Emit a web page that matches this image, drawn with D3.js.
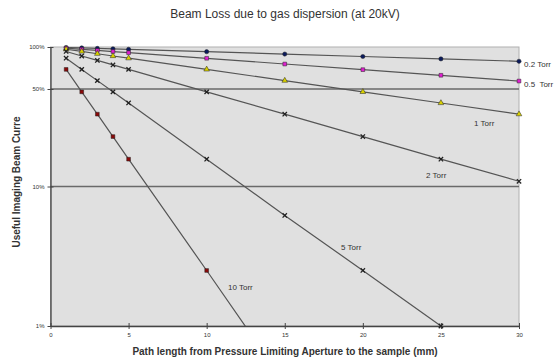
<!DOCTYPE html>
<html>
<head>
<meta charset="utf-8">
<script src="https://cdn.jsdelivr.net/npm/d3@7"></script>
<style>
  body { margin: 0; background: #fff; }
  text { font-family: "Liberation Sans", Arial, sans-serif; fill: #333; }
</style>
</head>
<body>
<div id="chart"></div>
<script>
// data (transmission % at each path length)
const distances = [1, 2, 3, 4, 5, 10, 15, 20, 25, 30];
const torr02 = [99.2, 98.5, 97.7, 97.0, 96.2, 92.5, 89.0, 85.5, 82.2, 79.0];
const torr05 = [98.1, 96.3, 94.5, 92.8, 91.1, 83.0, 75.5, 68.8, 62.7, 57.0];
const torr1 = [96.4, 92.9, 89.5, 86.2, 83.1, 69.1, 57.4, 47.7, 39.7, 33.0];
const torr2 = [92.9, 86.2, 80.1, 74.4, 69.1, 47.7, 33.0, 22.8, 15.7, 10.9];
const torr5 = [83.1, 69.1, 57.4, 47.7, 39.7, 15.7, 6.2, 2.5, 1.0];
const torr10 = [69.1, 47.7, 33.0, 22.8, 15.7, 2.5, 0.39];
const seriesNames = ["0.2 Torr", "0.5  Torr", "1 Torr", "2 Torr", "5 Torr", "10 Torr"];
const yTicks = [1, 10, 50, 100];
const yTickLabels = ["1%", "10%", "50%", "100%"];
const xTicks = [0, 5, 10, 15, 20, 25, 30];
const gridValues = [10, 50];

const config = {
  width: 557,
  height: 361,
  margin: {top: 47, left: 50.5, right: 38, bottom: 35},
  lineColor: "#555",
  plotBg: "#e0e0e0"
};

const series = [
  {name: seriesNames[0], values: torr02, marker: "circle", fill: "#0a1a5c", label: [524, 67]},
  {name: seriesNames[1], values: torr05, marker: "square", fill: "#e020d0", label: [524, 87]},
  {name: seriesNames[2], values: torr1, marker: "triangle", fill: "#d8d000", label: [474, 126]},
  {name: seriesNames[3], values: torr2, marker: "x", fill: "#333", label: [426, 178]},
  {name: seriesNames[4], values: torr5, marker: "x", fill: "#333", label: [341, 250]},
  {name: seriesNames[5], values: torr10, marker: "square", fill: "#8a0a0a", label: [228, 290]}
];

const W = config.width, H = config.height, m = config.margin;
const x = d3.scaleLinear([0, 30], [m.left, W - m.right]);
const y = d3.scaleLog([1, 100], [H - m.bottom, m.top]);

const svg = d3.select("#chart").append("svg")
  .attr("width", W)
  .attr("height", H)
  .attr("viewBox", [0, 0, W, H]);

svg.append("defs").append("clipPath").attr("id", "plot")
  .append("rect")
  .attr("x", x(0)).attr("y", y(100))
  .attr("width", x(30) - x(0)).attr("height", y(1) - y(100));

// plot background
svg.append("rect")
  .attr("x", x(0)).attr("y", y(100))
  .attr("width", x(30) - x(0)).attr("height", y(1) - y(100))
  .attr("fill", config.plotBg)
  .attr("stroke", "#b0b0b0")
  .attr("stroke-width", 1);

// horizontal gridlines
svg.append("g").selectAll("line")
  .data(gridValues)
  .join("line")
  .attr("x1", x(0)).attr("x2", x(30))
  .attr("y1", d => y(d)).attr("y2", d => y(d))
  .attr("stroke", "#6a6a6a")
  .attr("stroke-width", 1.5);

// axes
const xAxis = d3.axisBottom(x).tickValues(xTicks).tickSize(3).tickSizeOuter(0);
const gx = svg.append("g")
  .attr("transform", `translate(0,${y(1)})`)
  .call(xAxis);
gx.select(".domain").attr("stroke", "#444").attr("stroke-width", 1.3);
gx.selectAll(".tick line").attr("y1", -3).attr("stroke", "#444");
gx.selectAll(".tick text").attr("font-size", 6).attr("dy", "0.9em").attr("fill", "#444");

const yAxis = d3.axisLeft(y).tickValues(yTicks)
  .tickFormat((d, i) => yTickLabels[i]).tickSize(3).tickSizeOuter(0);
const gy = svg.append("g")
  .attr("transform", `translate(${x(0)},0)`)
  .call(yAxis);
gy.select(".domain").attr("stroke", "#444").attr("stroke-width", 1.3);
gy.selectAll(".tick line").attr("x1", 3).attr("stroke", "#444");
gy.selectAll(".tick text").attr("font-size", 6).attr("fill", "#444");

// lines
const line = d3.line()
  .x((d, i) => x(distances[i]))
  .y(d => y(d));

const plot = svg.append("g").attr("clip-path", "url(#plot)");

plot.selectAll("path.series")
  .data(series)
  .join("path")
  .attr("class", "series")
  .attr("fill", "none")
  .attr("stroke", config.lineColor)
  .attr("stroke-width", 1.2)
  .attr("d", s => line(s.values));

// markers
const symbolFor = {
  circle: d3.symbol(d3.symbolCircle, 14),
  square: d3.symbol(d3.symbolSquare, 14),
  triangle: d3.symbol(d3.symbolTriangle, 14),
  x: d3.symbol(d3.symbolTimes, 14)
};

series.forEach(s => {
  const pts = s.values
    .map((v, i) => ({xv: distances[i], yv: v}))
    .filter(p => p.yv >= 1);
  svg.append("g").selectAll("path")
    .data(pts)
    .join("path")
    .attr("transform", p => `translate(${x(p.xv)},${y(p.yv)})`)
    .attr("d", symbolFor[s.marker]())
    .attr("fill", s.marker === "x" ? "none" : s.fill)
    .attr("stroke", s.marker === "x" ? "#222" : "#222")
    .attr("stroke-width", s.marker === "x" ? 1.3 : 0.5);
});

// series labels
svg.append("g").selectAll("text")
  .data(series)
  .join("text")
  .attr("x", s => s.label[0])
  .attr("y", s => s.label[1])
  .attr("font-size", 8)
  .attr("fill", "#333")
  .style("white-space", "pre")
  .text(s => s.name);

// titles
svg.append("text")
  .attr("x", 285).attr("y", 18)
  .attr("text-anchor", "middle")
  .attr("font-size", 12)
  .text("Beam Loss due to gas dispersion (at 20kV)");

svg.append("text")
  .attr("x", 285).attr("y", 355)
  .attr("text-anchor", "middle")
  .attr("font-size", 10)
  .attr("font-weight", "bold")
  .attr("fill", "#444")
  .text("Path length from Pressure Limiting Aperture to the sample (mm)");

svg.append("text")
  .attr("transform", "translate(20,182) rotate(-90)")
  .attr("text-anchor", "middle")
  .attr("font-size", 10)
  .attr("font-weight", "bold")
  .attr("fill", "#444")
  .text("Useful Imaging Beam Curre");
</script>
</body>
</html>
